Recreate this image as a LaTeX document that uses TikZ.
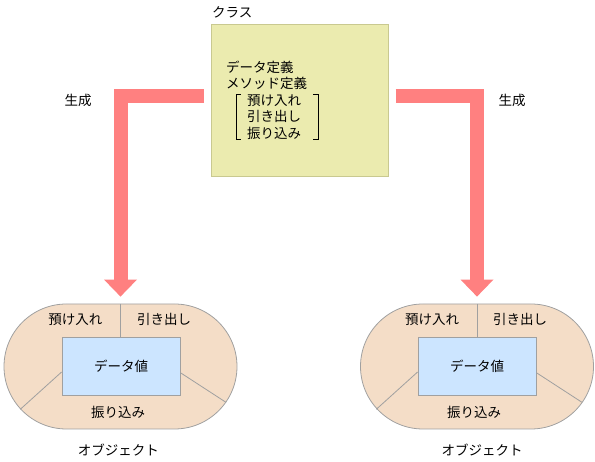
\documentclass[tikz,border=0pt]{standalone}
\usepackage{fontspec}
\setmainfont{Noto Sans CJK JP}
\usetikzlibrary{arrows.meta,shapes.misc,calc}
\definecolor{clsfill}{HTML}{EBEBAF}
\definecolor{clsdraw}{HTML}{C9C990}
\definecolor{arrowcol}{HTML}{FF8080}
\definecolor{objfill}{HTML}{F4DDC7}
\definecolor{datafill}{HTML}{CCE5FF}
\definecolor{grayline}{HTML}{A0A0A0}
\begin{document}
\begin{tikzpicture}[x=1pt,y=1pt,
  lbl/.style={inner sep=0pt, font=\fontsize{13.5}{15}\selectfont, text height=11.9pt, text depth=1.6pt},
  clsbox/.style={draw=clsdraw, fill=clsfill, line width=1pt, minimum width=177pt, minimum height=152pt, inner sep=0pt},
  objshape/.style={rounded rectangle, draw=grayline, fill=objfill, line width=0.8pt, minimum width=233pt, minimum height=125pt, inner sep=0pt},
  databox/.style={draw=grayline, fill=datafill, line width=0.8pt, minimum width=118pt, minimum height=58pt, inner sep=0pt},
  divline/.style={draw=grayline, line width=0.8pt},
  bigarrow/.style={draw=arrowcol, line width=14pt, -{Triangle[width=33pt,length=17pt,line width=0pt]}},
  bracket/.style={draw=black, line width=0.9pt}]
\useasboundingbox (0,0) rectangle (595,462);

% class box
\node[clsbox] (cls) at (299.5,361) {};
\node[lbl, anchor=west] (clslbl) at (212,450) {クラス};
\node[lbl, anchor=west] (t1) at (226,395) {データ定義};
\node[lbl, anchor=west] (t2) at (226,379) {メソッド定義};
\node[lbl, anchor=west] (t3) at (247,362) {預け入れ};
\node[lbl, anchor=west] (t4) at (247,345.5) {引き出し};
\node[lbl, anchor=west] (t5) at (247,329) {振り込み};
\draw[bracket] (240.5,368) -- (236,368) -- (236,323) -- (240.5,323);
\draw[bracket] (313,368) -- (318,368) -- (318,323) -- (313,323);

% left object
\node[objshape] (objL) at (120.5,95.5) {};
\node[databox] (dataL) at (121,96) {};
\draw[divline] (objL.north) -- (dataL.north -| objL.north);
\draw[divline] ($(dataL.west)+(0,-6)$) -- ++(-41.3,-37.3);
\draw[divline] ($(dataL.east)+(0,-6.7)$) -- ++(45.7,-29.7);
\node[lbl] (dL) at (dataL) {データ値};
\node[lbl] (aL) at (75.5,143) {預け入れ};
\node[lbl] (bL) at (164,143) {引き出し};
\node[lbl] (cL) at (118,49.5) {振り込み};
\node[lbl] (oL) at (118.3,12) {オブジェクト};

% right object
\node[objshape] (objR) at (477,95.5) {};
\node[databox] (dataR) at (477,96) {};
\draw[divline] (objR.north) -- (dataR.north -| objR.north);
\draw[divline] ($(dataR.west)+(0,-6)$) -- ++(-41.3,-37.3);
\draw[divline] ($(dataR.east)+(0,-6.7)$) -- ++(45.7,-29.7);
\node[lbl] (dR) at (dataR) {データ値};
\node[lbl] (aR) at (432,143) {預け入れ};
\node[lbl] (bR) at (520,143) {引き出し};
\node[lbl] (cR) at (474,49.5) {振り込み};
\node[lbl] (oR) at (482,12) {オブジェクト};

% arrows
\draw[bigarrow] ($(cls.west)+(-7,4.5)$) -| ([yshift=7pt]objL.north);
\draw[bigarrow] ($(cls.east)+(7,4.5)$) -| ([yshift=7pt]objR.north);
\node[lbl] (genL) at (78,362) {生成};
\node[lbl] (genR) at (512,362) {生成};
\end{tikzpicture}
\end{document}
